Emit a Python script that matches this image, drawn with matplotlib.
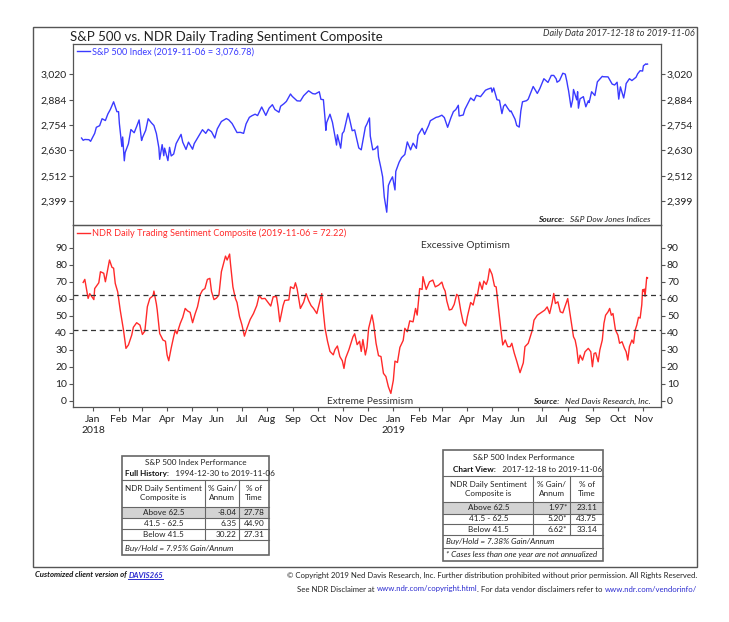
"""NDR chart: S&P 500 vs. Daily Trading Sentiment Composite, with performance tables."""

import matplotlib
matplotlib.use("Agg")
import matplotlib.pyplot as plt
import matplotlib.ticker as mticker
from matplotlib.patches import Rectangle
import pandas as pd

plt.rcParams["font.family"] = ["Lato", "DejaVu Sans"]

# ---------------------------------------------------------------- data
SPX_DATES = [
    "2017-12-18", "2017-12-20", "2017-12-22", "2017-12-27", "2017-12-29", "2018-01-03",
    "2018-01-05", "2018-01-09", "2018-01-12", "2018-01-16", "2018-01-19", "2018-01-22",
    "2018-01-26", "2018-01-30", "2018-02-01", "2018-02-02", "2018-02-05", "2018-02-06",
    "2018-02-08", "2018-02-09", "2018-02-13", "2018-02-16", "2018-02-20", "2018-02-23",
    "2018-02-26", "2018-03-01", "2018-03-02", "2018-03-06", "2018-03-09", "2018-03-13",
    "2018-03-16", "2018-03-19", "2018-03-22", "2018-03-23", "2018-03-26", "2018-03-28",
    "2018-03-29", "2018-04-02", "2018-04-04", "2018-04-06", "2018-04-09", "2018-04-12",
    "2018-04-18", "2018-04-20", "2018-04-24", "2018-04-27", "2018-05-02", "2018-05-04",
    "2018-05-09", "2018-05-14", "2018-05-18", "2018-05-21", "2018-05-25", "2018-05-29",
    "2018-06-01", "2018-06-06", "2018-06-12", "2018-06-15", "2018-06-19", "2018-06-25",
    "2018-06-29", "2018-07-03", "2018-07-06", "2018-07-10", "2018-07-13", "2018-07-17",
    "2018-07-20", "2018-07-25", "2018-07-30", "2018-08-03", "2018-08-07", "2018-08-10",
    "2018-08-15", "2018-08-17", "2018-08-21", "2018-08-24", "2018-08-29", "2018-08-31",
    "2018-09-06", "2018-09-10", "2018-09-14", "2018-09-20", "2018-09-25", "2018-09-28",
    "2018-10-03", "2018-10-05", "2018-10-08", "2018-10-10", "2018-10-11", "2018-10-12",
    "2018-10-16", "2018-10-19", "2018-10-24", "2018-10-25", "2018-10-29", "2018-10-31",
    "2018-11-02", "2018-11-07", "2018-11-09", "2018-11-12", "2018-11-15", "2018-11-20",
    "2018-11-23", "2018-11-28", "2018-11-30", "2018-12-03", "2018-12-04", "2018-12-07",
    "2018-12-10", "2018-12-13", "2018-12-14", "2018-12-17", "2018-12-19", "2018-12-21",
    "2018-12-24", "2018-12-26", "2018-12-28", "2018-12-31", "2019-01-03", "2019-01-04",
    "2019-01-08", "2019-01-11", "2019-01-15", "2019-01-18", "2019-01-22", "2019-01-25",
    "2019-01-29", "2019-01-31", "2019-02-05", "2019-02-08", "2019-02-13", "2019-02-15",
    "2019-02-22", "2019-02-25", "2019-03-01", "2019-03-04", "2019-03-08", "2019-03-12",
    "2019-03-15", "2019-03-18", "2019-03-21", "2019-03-22", "2019-03-27", "2019-03-29",
    "2019-04-02", "2019-04-05", "2019-04-09", "2019-04-12", "2019-04-17", "2019-04-23",
    "2019-04-26", "2019-04-30", "2019-05-01", "2019-05-03", "2019-05-07", "2019-05-10",
    "2019-05-13", "2019-05-15", "2019-05-17", "2019-05-20", "2019-05-23", "2019-05-24",
    "2019-05-29", "2019-05-31", "2019-06-03", "2019-06-05", "2019-06-07", "2019-06-12",
    "2019-06-14", "2019-06-20", "2019-06-25", "2019-06-28", "2019-07-03", "2019-07-08",
    "2019-07-12", "2019-07-15", "2019-07-18", "2019-07-19", "2019-07-22", "2019-07-26",
    "2019-07-29", "2019-07-31", "2019-08-01", "2019-08-02", "2019-08-05", "2019-08-07",
    "2019-08-08", "2019-08-12", "2019-08-13", "2019-08-14", "2019-08-16", "2019-08-20",
    "2019-08-23", "2019-08-26", "2019-08-27", "2019-08-30", "2019-09-03", "2019-09-06",
    "2019-09-12", "2019-09-13", "2019-09-19", "2019-09-24", "2019-09-27", "2019-09-30",
    "2019-10-02", "2019-10-04", "2019-10-08", "2019-10-10", "2019-10-11", "2019-10-15",
    "2019-10-18", "2019-10-23", "2019-10-25", "2019-10-28", "2019-10-31", "2019-11-01",
    "2019-11-04", "2019-11-05", "2019-11-06",
]
SPX_VALUES = [
    2690, 2679, 2683, 2682, 2674, 2713,
    2743, 2751, 2786, 2777, 2810, 2833,
    2873, 2822, 2822, 2762, 2649, 2695,
    2581, 2620, 2662, 2732, 2716, 2747,
    2780, 2678, 2691, 2728, 2786, 2765,
    2752, 2712, 2643, 2588, 2658, 2605,
    2641, 2582, 2645, 2604, 2613, 2663,
    2708, 2670, 2635, 2670, 2636, 2663,
    2697, 2731, 2713, 2733, 2721, 2690,
    2735, 2772, 2787, 2780, 2762, 2717,
    2718, 2713, 2760, 2793, 2801, 2809,
    2802, 2846, 2803, 2840, 2858, 2833,
    2819, 2850, 2863, 2875, 2914, 2902,
    2878, 2877, 2905, 2931, 2916, 2914,
    2926, 2886, 2884, 2786, 2728, 2767,
    2809, 2768, 2656, 2706, 2641, 2712,
    2723, 2814, 2781, 2726, 2730, 2642,
    2633, 2744, 2760, 2790, 2700, 2633,
    2638, 2651, 2600, 2546, 2507, 2417,
    2351, 2468, 2486, 2507, 2448, 2532,
    2574, 2596, 2611, 2671, 2633, 2665,
    2640, 2704, 2738, 2708, 2753, 2776,
    2793, 2796, 2804, 2792, 2743, 2791,
    2822, 2833, 2855, 2800, 2805, 2834,
    2867, 2893, 2879, 2907, 2900, 2934,
    2940, 2946, 2924, 2946, 2884, 2881,
    2812, 2850, 2860, 2840, 2822, 2826,
    2783, 2752, 2744, 2826, 2873, 2879,
    2887, 2954, 2917, 2942, 2996, 2976,
    3014, 3014, 2995, 2977, 2986, 3026,
    3021, 2980, 2954, 2932, 2845, 2884,
    2938, 2883, 2926, 2840, 2889, 2900,
    2847, 2878, 2869, 2926, 2906, 2979,
    3009, 3007, 3006, 2967, 2962, 2977,
    2887, 2952, 2893, 2938, 2970, 2996,
    2986, 3004, 3023, 3040, 3038, 3067,
    3078, 3075, 3077,
]

SENT_DATES = [
    "2017-12-20", "2017-12-22", "2017-12-26", "2017-12-28", "2018-01-02", "2018-01-03",
    "2018-01-08", "2018-01-10", "2018-01-14", "2018-01-16", "2018-01-21", "2018-01-24",
    "2018-01-26", "2018-01-28", "2018-01-31", "2018-02-03", "2018-02-07", "2018-02-10",
    "2018-02-13", "2018-02-17", "2018-02-19", "2018-02-23", "2018-02-27", "2018-03-02",
    "2018-03-05", "2018-03-08", "2018-03-11", "2018-03-15", "2018-03-16", "2018-03-19",
    "2018-03-20", "2018-03-23", "2018-03-27", "2018-03-30", "2018-04-01", "2018-04-03",
    "2018-04-06", "2018-04-09", "2018-04-11", "2018-04-13", "2018-04-17", "2018-04-20",
    "2018-04-23", "2018-04-26", "2018-04-29", "2018-05-02", "2018-05-05", "2018-05-08",
    "2018-05-11", "2018-05-14", "2018-05-17", "2018-05-20", "2018-05-23", "2018-05-25",
    "2018-05-28", "2018-05-31", "2018-06-03", "2018-06-06", "2018-06-11", "2018-06-13",
    "2018-06-16", "2018-06-17", "2018-06-20", "2018-06-23", "2018-06-25", "2018-06-28",
    "2018-07-01", "2018-07-04", "2018-07-07", "2018-07-11", "2018-07-15", "2018-07-19",
    "2018-07-22", "2018-07-25", "2018-07-29", "2018-08-02", "2018-08-05", "2018-08-08",
    "2018-08-12", "2018-08-14", "2018-08-16", "2018-08-20", "2018-08-22", "2018-08-27",
    "2018-08-29", "2018-09-02", "2018-09-04", "2018-09-06", "2018-09-10", "2018-09-14",
    "2018-09-17", "2018-09-20", "2018-09-23", "2018-09-26", "2018-09-30", "2018-10-03",
    "2018-10-06", "2018-10-08", "2018-10-10", "2018-10-13", "2018-10-16", "2018-10-20",
    "2018-10-22", "2018-10-25", "2018-10-28", "2018-10-31", "2018-11-02", "2018-11-04",
    "2018-11-08", "2018-11-10", "2018-11-13", "2018-11-15", "2018-11-18", "2018-11-21",
    "2018-11-23", "2018-11-25", "2018-11-28", "2018-11-30", "2018-12-02", "2018-12-06",
    "2018-12-08", "2018-12-11", "2018-12-14", "2018-12-17", "2018-12-20", "2018-12-23",
    "2018-12-26", "2018-12-29", "2019-01-01", "2019-01-03", "2019-01-06", "2019-01-09",
    "2019-01-13", "2019-01-15", "2019-01-18", "2019-01-21", "2019-01-25", "2019-01-28",
    "2019-01-30", "2019-02-02", "2019-02-05", "2019-02-06", "2019-02-10", "2019-02-14",
    "2019-02-18", "2019-02-21", "2019-02-25", "2019-03-01", "2019-03-03", "2019-03-05",
    "2019-03-07", "2019-03-10", "2019-03-13", "2019-03-16", "2019-03-19", "2019-03-21",
    "2019-03-24", "2019-03-27", "2019-03-30", "2019-04-01", "2019-04-05", "2019-04-08",
    "2019-04-11", "2019-04-13", "2019-04-16", "2019-04-19", "2019-04-21", "2019-04-24",
    "2019-04-26", "2019-04-28", "2019-05-01", "2019-05-04", "2019-05-06", "2019-05-09",
    "2019-05-11", "2019-05-14", "2019-05-17", "2019-05-20", "2019-05-23", "2019-05-25",
    "2019-05-28", "2019-05-31", "2019-06-04", "2019-06-08", "2019-06-10", "2019-06-14",
    "2019-06-19", "2019-06-21", "2019-06-25", "2019-06-28", "2019-07-01", "2019-07-04",
    "2019-07-07", "2019-07-10", "2019-07-13", "2019-07-15", "2019-07-17", "2019-07-20",
    "2019-07-23", "2019-07-26", "2019-07-30", "2019-08-01", "2019-08-04", "2019-08-08",
    "2019-08-10", "2019-08-12", "2019-08-14", "2019-08-16", "2019-08-19", "2019-08-22",
    "2019-08-26", "2019-08-29", "2019-08-31", "2019-09-02", "2019-09-04", "2019-09-07",
    "2019-09-09", "2019-09-12", "2019-09-14", "2019-09-16", "2019-09-19", "2019-09-21",
    "2019-09-23", "2019-09-25", "2019-09-28", "2019-10-01", "2019-10-03", "2019-10-06",
    "2019-10-09", "2019-10-11", "2019-10-13", "2019-10-15", "2019-10-18", "2019-10-20",
    "2019-10-22", "2019-10-24", "2019-10-26", "2019-10-28", "2019-10-30", "2019-10-31",
    "2019-11-01", "2019-11-02", "2019-11-03", "2019-11-04", "2019-11-05", "2019-11-06",
]
SENT_VALUES = [
    69.6, 71.4, 60.2, 63.0, 59.5, 66.0,
    69.4, 75.9, 75.0, 70.0, 82.8, 78.5,
    78.0, 69.0, 64.0, 53.4, 41.6, 30.8,
    32.8, 38.6, 43.2, 45.9, 44.5, 39.0,
    41.0, 55.3, 60.2, 61.8, 64.5, 56.9,
    53.4, 39.6, 35.7, 35.0, 26.9, 23.5,
    31.0, 37.7, 41.6, 39.4, 45.5, 49.0,
    54.3, 52.8, 52.0, 45.9, 51.0, 55.3,
    62.2, 65.0, 66.0, 71.4, 72.0, 64.3,
    59.5, 60.4, 62.2, 75.9, 85.1, 82.8,
    86.3, 80.9, 67.0, 60.2, 57.8, 49.6,
    44.6, 38.0, 42.5, 47.8, 51.3, 56.0,
    62.0, 60.0, 60.2, 57.6, 55.7, 61.2,
    61.2, 55.0, 46.5, 56.0, 59.0, 59.3,
    67.0, 66.0, 69.4, 66.0, 54.3, 58.0,
    63.0, 59.0, 56.0, 54.3, 51.3, 57.2,
    63.0, 52.0, 42.6, 35.0, 29.0, 27.0,
    30.0, 32.2, 26.0, 23.5, 19.0, 25.0,
    30.0, 33.0, 37.7, 39.4, 33.0, 35.0,
    29.0, 36.0, 26.9, 31.6, 42.6, 50.5,
    45.5, 33.8, 26.5, 26.0, 16.1, 14.2,
    8.2, 4.3, 12.0, 23.3, 22.5, 31.4,
    35.5, 42.6, 40.6, 47.0, 46.4, 54.3,
    50.4, 66.0, 65.5, 73.0, 65.5, 70.0,
    71.0, 67.0, 68.0, 69.8, 66.5, 64.5,
    58.7, 53.4, 53.8, 56.7, 62.6, 61.6,
    52.8, 45.9, 44.0, 49.5, 57.8, 56.3,
    62.6, 61.6, 69.8, 65.5, 70.4, 68.4,
    71.4, 77.6, 74.3, 67.4, 67.0, 53.8,
    45.0, 32.8, 35.7, 31.8, 31.8, 33.8,
    28.0, 23.3, 16.5, 22.3, 31.8, 33.8,
    41.6, 47.4, 50.3, 51.3, 52.3, 53.3,
    55.2, 51.3, 57.6, 63.1, 57.2, 58.2,
    52.3, 51.7, 57.2, 60.1, 50.3, 37.6,
    35.7, 30.8, 22.0, 26.8, 23.9, 28.8,
    30.8, 28.8, 20.0, 27.8, 28.2, 22.9,
    29.8, 35.7, 45.5, 50.3, 52.3, 54.3,
    50.3, 51.3, 41.6, 38.6, 33.8, 34.7,
    30.8, 28.8, 23.9, 31.8, 35.7, 33.8,
    41.6, 44.6, 49.1, 48.6, 56.4, 65.3,
    64.3, 65.7, 61.4, 67.3, 72.6, 72.22,
]

UPPER_BAND = 62.5
LOWER_BAND = 41.5
SPX_TICKS = [2399, 2512, 2630, 2754, 2884, 3020]
SENT_TICKS = [0, 10, 20, 30, 40, 50, 60, 70, 80, 90]

ZONE_LABELS = ["Above 62.5", "41.5 - 62.5", "Below 41.5"]
FULL_GAIN = ["-8.04", "6.35", "30.22"]
FULL_TIME = ["27.78", "44.90", "27.31"]
VIEW_GAIN = ["1.97*", "5.20*", "6.62*"]
VIEW_TIME = ["23.11", "43.75", "33.14"]

BLUE = "#3a3aff"
RED = "#ff2a2a"
LINK = "#2b2bd0"
FRAME = "#555555"
INK = "#222222"

W, H = 729, 622

spx_d = pd.to_datetime(SPX_DATES)
sent_d = pd.to_datetime(SENT_DATES)

fig = plt.figure(figsize=(W / 100, H / 100), dpi=100)


def overlay(z):
    a = fig.add_axes([0, 0, 1, 1], zorder=z)
    a.set_xlim(0, W)
    a.set_ylim(H, 0)
    a.axis("off")
    return a


fa = overlay(0)   # frame, tables, footer
ft = overlay(3)   # labels that sit inside the panels


def px_axes(x0, y0, x1, y1):
    return fig.add_axes([x0 / W, 1 - y1 / H, (x1 - x0) / W, (y1 - y0) / H], zorder=2)


ax1 = px_axes(73.3, 44, 660.7, 225)
ax2 = px_axes(73.3, 225, 660.7, 407)

xmin, xmax = pd.Timestamp("2017-12-08"), pd.Timestamp("2019-11-22")

# ---------------------------------------------------------------- top panel
ax1.plot(spx_d, SPX_VALUES, color=BLUE, lw=1.0,
         label="S&P 500 Index (2019-11-06 = 3,076.78)")
ax1.set_yscale("log")
ax1.set_ylim(2297, 3191)
ax1.yaxis.set_major_locator(mticker.FixedLocator(SPX_TICKS))
ax1.yaxis.set_major_formatter(mticker.FuncFormatter(lambda v, p: f"{v:,.0f}"))
ax1.yaxis.set_minor_locator(mticker.NullLocator())
ax1.set_xlim(xmin, xmax)
ax1.tick_params(axis="x", bottom=False, labelbottom=False)

# ---------------------------------------------------------------- bottom panel
ax2.plot(sent_d, SENT_VALUES, color=RED, lw=1.0,
         label="NDR Daily Trading Sentiment Composite (2019-11-06 = 72.22)")
for lvl in (UPPER_BAND, LOWER_BAND):
    ax2.axhline(lvl, color="#333333", lw=0.9, ls=(0, (4, 3)))
ax2.set_ylim(-3.7, 103.4)
ax2.set_yticks(SENT_TICKS)
ax2.set_xlim(xmin, xmax)

months = pd.date_range("2018-01-01", "2019-11-01", freq="MS")
ax2.set_xticks(months)
ax2.set_xticklabels([m.strftime("%b") + ("\n" + m.strftime("%Y") if m.month == 1 else "")
                     for m in months])

for ax in (ax1, ax2):
    ax.set_facecolor("none")
    ax.legend(loc="upper left", frameon=False, fontsize=6.6, handlelength=1.45,
              handletextpad=0.25, borderaxespad=0.0, borderpad=0.35,
              labelcolor="linecolor")
    for s in ax.spines.values():
        s.set_color(FRAME)
        s.set_linewidth(0.9)
    ax.tick_params(axis="y", left=True, right=True, labelleft=True, labelright=True,
                   direction="out", length=3, width=0.8, color=FRAME,
                   labelsize=7.5, pad=1.5, labelcolor=INK)
ax2.tick_params(axis="x", direction="out", length=3, width=0.8, color=FRAME,
                labelsize=7.5, pad=3, labelcolor=INK)

# panel annotations (pixel coordinates)
ft.text(465, 246, "Excessive Optimism", ha="center", va="center", fontsize=7.3, color="#333333")
ft.text(370, 401, "Extreme Pessimism", ha="center", va="center", fontsize=7.3, color="#333333")


def source(y, text):
    t = ft.text(650.7, y, text, ha="right", va="center", fontsize=6,
                style="italic", color=INK)
    ft.annotate("Source:   ", xy=(0, 0.5), xycoords=t, ha="right", va="center",
                fontsize=6, style="italic", weight="bold", color=INK)


source(219, "S&P Dow Jones Indices")
source(401, "Ned Davis Research, Inc.")

# ---------------------------------------------------------------- titles
fa.text(70, 37, "S&P 500 vs. NDR Daily Trading Sentiment Composite", ha="left",
        va="center", fontsize=9.5, color=INK)
fa.text(695, 34, "Daily Data 2017-12-18 to 2019-11-06", ha="right", va="center",
        fontsize=6.6, style="italic", color="#333333")

# outer frame
fa.add_patch(Rectangle((33.3, 26.7), 663.7, 540.3, fill=False, ec=FRAME, lw=1.0))


# ---------------------------------------------------------------- tables
def table(x0, x1, cx1, cx2, y_top, y_hdr, rows_y, label, period, gains, times, y_bot):
    fs = 5.9
    fa.add_patch(Rectangle((x0, rows_y[0]), x1 - x0, rows_y[1] - rows_y[0],
                           fc="#d3d3d3", ec="none"))
    fa.add_patch(Rectangle((x0, y_top), x1 - x0, y_bot - y_top, fill=False,
                           ec="#666666", lw=1.2))
    for y in [y_hdr] + rows_y:
        fa.plot([x0, x1], [y, y], color="#666666", lw=0.8)
    for x in (cx1, cx2):
        fa.plot([x, x], [y_hdr, rows_y[-1]], color="#666666", lw=0.8)
    mid = (x0 + x1) / 2
    fa.text(mid, y_top + (y_hdr - y_top) * 0.3, "S&P 500 Index Performance",
            ha="center", va="center", fontsize=fs, color=INK)
    lab = fa.text(label[1], y_top + (y_hdr - y_top) * 0.74, label[0], ha="left",
                  va="center", fontsize=fs, weight="bold", color="#111111")
    fa.annotate("   " + period, xy=(1, 0.5), xycoords=lab, ha="left", va="center",
                fontsize=fs, color=INK)
    hy = (y_hdr + rows_y[0]) / 2
    fa.text((x0 + cx1) / 2, hy, "NDR Daily Sentiment\nComposite is", ha="center",
            va="center", fontsize=fs, color=INK, linespacing=1.35)
    fa.text((cx1 + cx2) / 2, hy, "% Gain/\nAnnum", ha="center", va="center",
            fontsize=fs, color=INK, linespacing=1.35)
    fa.text((cx2 + x1) / 2, hy, "% of\nTime", ha="center", va="center",
            fontsize=fs, color=INK, linespacing=1.35)
    for i, (z, g, t) in enumerate(zip(ZONE_LABELS, gains, times)):
        ry = (rows_y[i] + rows_y[i + 1]) / 2
        fa.text((x0 + cx1) / 2, ry, z, ha="center", va="center", fontsize=fs, color=INK)
        fa.text(cx2 - 2.5, ry, g, ha="right", va="center", fontsize=fs, color=INK)
        fa.text((cx2 + x1) / 2, ry, t, ha="center", va="center", fontsize=fs, color=INK)


table(122, 268.7, 205, 239.3, 455.7, 480, [506.7, 518.3, 529.3, 540],
      ("Full History:", 125), "1994-12-30 to 2019-11-06", FULL_GAIN, FULL_TIME, 555)
fa.text(125, 548, "Buy/Hold = 7.95% Gain/Annum", ha="left", va="center",
        fontsize=5.9, style="italic", color=INK)

table(443.3, 603.3, 533.3, 570, 449.7, 476, [502, 513.7, 524, 535.3],
      ("Chart View:", 453.3), "2017-12-18 to 2019-11-06", VIEW_GAIN, VIEW_TIME, 560.7)
fa.plot([443.3, 603.3], [548, 548], color="#666666", lw=0.8)
fa.text(446, 541.7, "Buy/Hold = 7.38% Gain/Annum", ha="left", va="center",
        fontsize=5.9, style="italic", color=INK)
fa.text(446, 554.5, "* Cases less than one year are not annualized", ha="left",
        va="center", fontsize=5.9, style="italic", color=INK)

# ---------------------------------------------------------------- footer
FS_FOOT = 5.6
c = fa.text(35, 575, "Customized client version of ", ha="left", va="center",
            fontsize=FS_FOOT, style="italic", weight="bold", color="#111111")
d = fa.annotate("DAVIS265", xy=(1, 0.5), xycoords=c, ha="left", va="center",
                fontsize=FS_FOOT, style="italic", weight="bold", color=LINK)
fig.canvas.draw()
bb = d.get_window_extent()
fa.plot([bb.x0, bb.x1], [H - bb.y0 + 0.5, H - bb.y0 + 0.5], color=LINK, lw=0.7)

fa.text(697, 575, "\u00a9 Copyright 2019 Ned Davis Research, Inc. Further distribution "
        "prohibited without prior permission. All Rights Reserved.", ha="right",
        va="center", fontsize=FS_FOOT, color=INK)
parts = [("See NDR Disclaimer at ", INK), ("www.ndr.com/copyright.html", LINK),
         (". For data vendor disclaimers refer to ", INK),
         ("www.ndr.com/vendorinfo/", LINK)]
prev = None
for s, col in reversed(parts):
    if prev is None:
        prev = fa.text(697, 589, s, ha="right", va="center", fontsize=FS_FOOT, color=col)
    else:
        prev = fa.annotate(s, xy=(0, 0.5), xycoords=prev, ha="right", va="center",
                           fontsize=FS_FOOT, color=col)

fig.savefig("out.png", dpi=100)
